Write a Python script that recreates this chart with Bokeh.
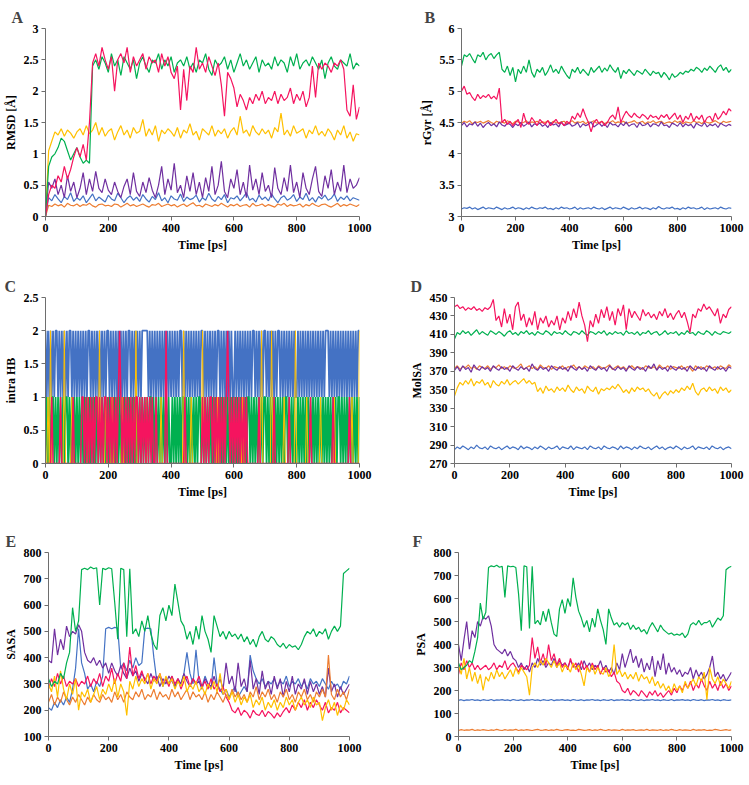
import numpy as np
from bokeh.plotting import figure
from bokeh.layouts import column, row
from bokeh.models import Range1d, FixedTicker
from bokeh.embed import file_html
from bokeh.resources import INLINE

FONT = "Liberation Serif"
BLUE = "#4472C4"; ORANGE = "#ED7D31"; YELLOW = "#FFC000"
GREEN = "#00B050"; RED = "#F5145F"; PURPLE = "#7030A0"

time_ticks = [0, 200, 400, 600, 800, 1000]

# ---------------- A: RMSD [Å] (sampled every 10 ps) ----------------
rmsd_orange = [0, .18, .16, .20, .17, .19, .15, .21, .18, .17,
               .20, .16, .19, .18, .21, .17, .15, .19, .20, .17,
               .18, .16, .20, .19, .15, .18, .21, .17, .19, .16,
               .18, .20, .17, .15, .19, .18, .21, .16, .18, .20,
               .17, .19, .15, .18, .20, .16, .19, .22, .17, .18,
               .15, .20, .18, .16, .19, .17, .21, .18, .15, .19,
               .17, .20, .16, .18, .19, .15, .21, .17, .18, .20,
               .16, .19, .17, .15, .20, .18, .21, .16, .19, .17,
               .18, .20, .15, .19, .17, .21, .18, .16, .19, .20,
               .17, .15, .18, .21, .16, .19, .17, .20, .18, .16, .19]
rmsd_blue = [0, .30, .25, .35, .28, .22, .32, .27, .38, .24,
             .30, .26, .33, .22, .29, .36, .25, .31, .27, .23,
             .34, .28, .25, .37, .30, .22, .29, .33, .26, .31,
             .24, .35, .28, .23, .32, .27, .38, .25, .30, .22,
             .33, .28, .26, .36, .24, .31, .27, .29, .34, .23,
             .30, .26, .37, .28, .24, .32, .27, .35, .22, .30,
             .28, .33, .25, .31, .38, .26, .29, .23, .34, .27,
             .31, .25, .36, .28, .22, .30, .33, .26, .29, .35,
             .24, .31, .27, .37, .25, .30, .23, .32, .28, .34,
             .26, .29, .36, .24, .31, .27, .33, .25, .30, .28, .26]
rmsd_purple = [0, .55, .45, .60, .35, .50, .30, .65, .40, .55,
               .30, .45, .70, .35, .60, .40, .72, .45, .38, .60,
               .42, .35, .55, .40, .30, .48, .60, .35, .70, .40,
               .32, .55, .38, .62, .42, .30, .50, .80, .35, .60,
               .42, .85, .38, .50, .30, .65, .40, .70, .35, .55,
               .30, .62, .40, .80, .35, .50, .88, .40, .30, .60,
               .45, .75, .35, .55, .30, .82, .42, .60, .35, .70,
               .40, .50, .30, .78, .45, .35, .62, .40, .82, .38,
               .55, .30, .70, .45, .35, .60, .80, .40, .32, .65,
               .45, .75, .35, .55, .40, .82, .38, .60, .45, .50, .62]
rmsd_yellow = [0, 1.05, 1.2, 1.35, 1.3, 1.4, 1.28, 1.38, 1.33, 1.25,
               1.35, 1.4, 1.3, 1.45, 1.32, 1.38, 1.5, 1.3, 1.42, 1.28,
               1.36, 1.4, 1.22, 1.35, 1.45, 1.3, 1.38, 1.25, 1.42, 1.33,
               1.36, 1.55, 1.28, 1.4, 1.3, 1.45, 1.2, 1.38, 1.32, 1.4,
               1.35, 1.28, 1.42, 1.25, 1.38, 1.33, 1.48, 1.3, 1.36, 1.22,
               1.4, 1.35, 1.3, 1.45, 1.28, 1.38, 1.32, 1.4, 1.25, 1.36,
               1.42, 1.3, 1.6, 1.33, 1.38, 1.28, 1.45, 1.35, 1.3, 1.4,
               1.32, 1.38, 1.25, 1.42, 1.35, 1.65, 1.3, 1.38, 1.28, 1.45,
               1.33, 1.36, 1.4, 1.25, 1.38, 1.32, 1.45, 1.3, 1.36, 1.28,
               1.4, 1.33, 1.22, 1.38, 1.3, 1.45, 1.25, 1.35, 1.2, 1.32, 1.3]
rmsd_green = [0, .80, .95, 1.0, 1.1, 1.25, 1.2, 1.05, .90, 1.0,
              1.1, .95, .85, .90, .85, 2.4, 2.5, 2.35, 2.55, 2.45,
              2.3, 2.6, 2.4, 2.5, 2.25, 2.55, 2.45, 2.35, 2.5, 2.2,
              2.45, 2.55, 2.4, 2.3, 2.5, 2.45, 2.6, 2.35, 2.5, 2.4,
              2.55, 2.3, 2.45, 2.5, 2.4, 2.55, 2.35, 2.45, 2.3, 2.5,
              2.45, 2.6, 2.35, 2.25, 2.5, 2.4, 2.45, 2.55, 2.35, 2.5,
              2.3, 2.45, 2.6, 2.4, 2.5, 2.35, 2.45, 2.55, 2.3, 2.5,
              2.4, 2.45, 2.35, 2.55, 2.4, 2.5, 2.45, 2.3, 2.55, 2.4,
              2.6, 2.35, 2.45, 2.5, 2.4, 2.55, 2.45, 2.35, 2.5, 2.2,
              2.45, 2.55, 2.4, 2.35, 2.5, 2.45, 2.4, 2.6, 2.35, 2.45, 2.4]
rmsd_red = [0, .35, .5, .45, .65, .55, .8, .6, .75, .95,
            1.1, .95, 1.15, .9, 1.5, 2.45, 2.6, 2.4, 2.7, 2.5,
            2.35, 2.55, 2.0, 2.5, 2.6, 2.45, 2.7, 2.3, 2.55, 2.4,
            2.5, 2.6, 2.35, 2.55, 2.45, 2.5, 2.3, 2.6, 2.4, 2.55,
            2.3, 2.2, 2.4, 1.7, 2.35, 1.85, 2.4, 2.3, 2.7, 2.35,
            2.45, 2.3, 2.55, 2.4, 2.25, 2.45, 2.1, 1.6, 2.3, 2.2,
            2.05, 1.75, 1.95, 1.85, 1.7, 1.9, 1.8, 1.95, 1.85, 2.0,
            1.8, 1.9, 1.85, 2.0, 1.8, 1.95, 1.85, 1.9, 2.05, 1.8,
            1.95, 1.85, 2.0, 1.75, 1.9, 2.4, 1.9, 2.45, 2.35, 2.45,
            2.4, 2.3, 2.45, 2.4, 2.5, 2.35, 1.7, 1.6, 2.1, 1.55, 1.75]

# ---------------- B: rGyr [Å] ----------------
rgyr_blue = [3.12, 3.14, 3.13, 3.15, 3.12, 3.14, 3.11, 3.13, 3.15, 3.12,
             3.14, 3.13, 3.12, 3.15, 3.13, 3.11, 3.14, 3.12, 3.13, 3.15,
             3.12, 3.14, 3.13, 3.11, 3.14, 3.12, 3.15, 3.13, 3.12, 3.14,
             3.13, 3.15, 3.12, 3.13, 3.11, 3.14, 3.12, 3.15, 3.13, 3.14,
             3.12, 3.13, 3.15, 3.11, 3.14, 3.12, 3.13, 3.14, 3.12, 3.15,
             3.13, 3.12, 3.14, 3.11, 3.13, 3.15, 3.12, 3.14, 3.13, 3.12,
             3.15, 3.13, 3.11, 3.14, 3.12, 3.13, 3.15, 3.12, 3.14, 3.13,
             3.11, 3.14, 3.12, 3.16, 3.13, 3.12, 3.14, 3.13, 3.15, 3.12,
             3.13, 3.11, 3.14, 3.12, 3.15, 3.13, 3.14, 3.12, 3.13, 3.15,
             3.11, 3.14, 3.12, 3.13, 3.14, 3.12, 3.15, 3.13, 3.12, 3.14, 3.13]
rgyr_orange = [4.49, 4.52, 4.50, 4.53, 4.48, 4.51, 4.50, 4.52, 4.49, 4.51,
               4.53, 4.50, 4.48, 4.52, 4.50, 4.51, 4.49, 4.53, 4.50, 4.48,
               4.52, 4.51, 4.49, 4.50, 4.53, 4.48, 4.51, 4.50, 4.52, 4.49,
               4.51, 4.50, 4.53, 4.48, 4.52, 4.50, 4.49, 4.51, 4.52, 4.48,
               4.50, 4.53, 4.49, 4.51, 4.50, 4.52, 4.48, 4.51, 4.50, 4.53,
               4.49, 4.50, 4.52, 4.48, 4.51, 4.50, 4.53, 4.49, 4.51, 4.50,
               4.52, 4.48, 4.50, 4.51, 4.53, 4.49, 4.50, 4.52, 4.48, 4.51,
               4.50, 4.53, 4.49, 4.51, 4.52, 4.48, 4.50, 4.51, 4.49, 4.53,
               4.50, 4.52, 4.48, 4.51, 4.50, 4.49, 4.53, 4.50, 4.51, 4.48,
               4.52, 4.50, 4.49, 4.51, 4.53, 4.50, 4.48, 4.52, 4.50, 4.51, 4.52]
rgyr_purple = [4.45, 4.50, 4.43, 4.48, 4.46, 4.51, 4.44, 4.49, 4.42, 4.47,
               4.50, 4.45, 4.48, 4.43, 4.51, 4.46, 4.44, 4.49, 4.47, 4.42,
               4.48, 4.45, 4.50, 4.44, 4.47, 4.51, 4.43, 4.48, 4.46, 4.49,
               4.44, 4.47, 4.42, 4.50, 4.46, 4.48, 4.43, 4.51, 4.45, 4.47,
               4.49, 4.44, 4.46, 4.50, 4.42, 4.48, 4.45, 4.47, 4.51, 4.43,
               4.46, 4.49, 4.44, 4.48, 4.42, 4.50, 4.46, 4.47, 4.43, 4.49,
               4.45, 4.51, 4.44, 4.47, 4.48, 4.42, 4.50, 4.45, 4.46, 4.49,
               4.43, 4.48, 4.47, 4.44, 4.51, 4.45, 4.46, 4.42, 4.49, 4.47,
               4.44, 4.50, 4.43, 4.48, 4.45, 4.47, 4.41, 4.49, 4.46, 4.44,
               4.50, 4.43, 4.47, 4.45, 4.48, 4.42, 4.49, 4.46, 4.44, 4.47, 4.45]
rgyr_red = [5.0, 5.08, 4.95, 4.98, 4.9, 4.85, 4.95, 4.88, 4.93, 4.9,
            4.95, 4.88, 4.92, 4.87, 5.05, 4.5, 4.55, 4.47, 4.52, 4.45,
            4.5, 4.55, 4.42, 4.65, 4.5, 4.47, 4.58, 4.52, 4.45, 4.55,
            4.5, 4.47, 4.53, 4.45, 4.5, 4.55, 4.48, 4.5, 4.45, 4.52,
            4.48, 4.6, 4.55, 4.65, 4.58, 4.72, 4.6, 4.5, 4.35, 4.5,
            4.55, 4.48, 4.52, 4.45, 4.5, 4.58, 4.62, 4.55, 4.75, 4.5,
            4.6, 4.68, 4.62, 4.58, 4.65, 4.6, 4.57, 4.63, 4.6, 4.55,
            4.62, 4.58, 4.6, 4.55, 4.62, 4.58, 4.63, 4.55, 4.6, 4.65,
            4.55, 4.62, 4.5, 4.6, 4.55, 4.65, 4.52, 4.6, 4.55, 4.62,
            4.5, 4.58, 4.6, 4.52, 4.65, 4.55, 4.6, 4.68, 4.62, 4.72, 4.68]
rgyr_green = [5.4, 5.58, 5.55, 5.6, 5.52, 5.45, 5.58, 5.55, 5.62, 5.5,
              5.57, 5.6, 5.52, 5.58, 5.62, 5.35, 5.3, 5.4, 5.25, 5.38,
              5.15, 5.35, 5.28, 5.4, 5.3, 5.5, 5.3, 5.22, 5.35, 5.3,
              5.38, 5.25, 5.32, 5.42, 5.3, 5.35, 5.28, 5.4, 5.32, 5.25,
              5.2, 5.35, 5.3, 5.38, 5.28, 5.35, 5.3, 5.25, 5.38, 5.3,
              5.35, 5.4, 5.3, 5.37, 5.32, 5.42, 5.35, 5.3, 5.38, 5.2,
              5.33, 5.28, 5.35, 5.3, 5.25, 5.33, 5.3, 5.27, 5.35, 5.3,
              5.25, 5.32, 5.28, 5.3, 5.22, 5.3, 5.25, 5.18, 5.28, 5.22,
              5.25, 5.3, 5.27, 5.32, 5.3, 5.35, 5.32, 5.38, 5.35, 5.3,
              5.37, 5.33, 5.4, 5.35, 5.3, 5.38, 5.42, 5.33, 5.38, 5.3, 5.35]

# ---------------- C: intra HB (sampled every 4 ps) ----------------
hb_blue = ("2121212122121212121221212" "1212121212212121212121212"
           "2121212121212121221212121" "2122222121212121212121212"
           "1212121221212121212121212" "2121212121212212121212121"
           "1212121212121212212121212" "2121212121221212121212121"
           "1212121212121212121212122" "2121212121212121212121212" "2")
hb_green = ("0101011010101010110101010" "1010101010101010101010101"
            "0101010101010101010101010" "1010101011010101010101010"
            "0101010101101010101010110" "1010101010101010101010101"
            "0101010101011010101010101" "1010101010101010110101010"
            "0101010101010101010101010" "1010101011010101010101010" "1")
hb_yellow = ("0010200000000002000001000" "0000000001000000002000010"
             "0001000000010000000000200" "0000001000000000010000000"
             "0000000000200000100000000" "2000000000001000000000000"
             "0000000100000000000000200" "0000020000000001000000002"
             "0000000010000000000100000" "0000010000000000000100000" "2")
hb_red = ("0000010000001000000000100" "0000110101010101101010110"
          "1010101012101010101010110" "1010101010100100000002000"
          "0000000000010000000000000" "1010101101010101010121010"
          "1010101010100000000010000" "0000000100000000000100000"
          "0000000000010000000000000" "0000100000000000010000000" "0")

# ---------------- D: MolSA ----------------
molsa_blue = [285, 288, 286, 289, 287, 285, 288, 286, 290, 287,
              286, 288, 285, 289, 287, 286, 288, 285, 287, 289,
              286, 288, 287, 285, 289, 286, 288, 287, 285, 288,
              286, 289, 287, 285, 288, 286, 287, 289, 285, 288,
              287, 286, 289, 285, 288, 287, 286, 288, 285, 289,
              287, 286, 288, 285, 289, 287, 286, 288, 287, 285,
              289, 286, 288, 287, 285, 288, 286, 289, 287, 286,
              288, 285, 287, 289, 286, 288, 285, 287, 288, 286,
              289, 287, 285, 288, 286, 287, 289, 285, 288, 287,
              286, 288, 285, 289, 287, 286, 288, 285, 287, 288, 286]
molsa_orange = [373, 376, 372, 375, 374, 377, 373, 375, 372, 376,
                374, 373, 376, 372, 375, 374, 377, 373, 375, 372,
                376, 374, 373, 375, 378, 372, 374, 376, 373, 375,
                372, 377, 374, 373, 376, 372, 375, 374, 373, 376,
                372, 375, 374, 377, 373, 375, 372, 376, 374, 373,
                375, 372, 376, 374, 373, 375, 377, 372, 374, 376,
                373, 375, 372, 374, 376, 373, 375, 374, 372, 376,
                374, 373, 375, 372, 377, 374, 373, 376, 372, 375,
                374, 373, 376, 372, 375, 374, 370, 376, 373, 375,
                372, 376, 374, 373, 375, 372, 376, 374, 373, 377, 375]
molsa_purple = [371, 375, 370, 376, 372, 374, 369, 377, 373, 371,
                375, 372, 374, 370, 376, 373, 371, 375, 372, 374,
                370, 376, 373, 371, 375, 372, 374, 370, 378, 373,
                371, 375, 372, 374, 370, 376, 373, 371, 375, 372,
                374, 370, 376, 373, 371, 375, 372, 374, 370, 376,
                373, 371, 375, 372, 374, 370, 376, 373, 371, 375,
                372, 374, 370, 376, 373, 371, 375, 372, 374, 370,
                376, 373, 378, 371, 375, 372, 374, 370, 376, 373,
                371, 375, 372, 374, 370, 376, 373, 371, 375, 372,
                374, 370, 376, 373, 371, 375, 372, 374, 370, 375, 373]
molsa_yellow = [343, 352, 358, 355, 360, 356, 362, 354, 359, 357,
                361, 355, 358, 352, 360, 356, 354, 359, 356, 361,
                355, 358, 360, 356, 359, 362, 357, 360, 356, 358,
                348, 352, 346, 354, 349, 351, 347, 353, 349, 352,
                348, 355, 350, 347, 353, 349, 351, 346, 354, 350,
                348, 353, 345, 351, 349, 352, 350, 354, 351, 356,
                352, 347, 350, 346, 352, 348, 353, 350, 352, 348,
                351, 346, 343, 347, 340, 345, 348, 344, 349, 346,
                350, 347, 352, 349, 354, 350, 357, 348, 344, 350,
                352, 348, 353, 349, 351, 346, 353, 349, 352, 347, 350]
molsa_green = [405, 412, 410, 414, 411, 413, 409, 412, 415, 410,
               413, 411, 409, 414, 412, 410, 413, 411, 408, 412,
               414, 410, 412, 409, 413, 411, 414, 410, 412, 409,
               413, 411, 410, 414, 412, 409, 413, 411, 412, 410,
               414, 411, 409, 413, 412, 410, 414, 411, 409, 413,
               412, 410, 413, 411, 414, 409, 412, 410, 413, 411,
               412, 409, 414, 411, 412, 410, 413, 409, 412, 411,
               414, 410, 412, 413, 409, 411, 414, 410, 412, 411,
               413, 409, 412, 410, 414, 411, 412, 409, 413, 411,
               410, 414, 412, 409, 413, 411, 410, 413, 412, 411, 413]
molsa_red = [440, 442, 438, 440, 436, 439, 437, 440, 436, 438,
             435, 439, 437, 440, 448, 425, 430, 418, 438, 422,
             432, 415, 440, 445, 425, 432, 418, 428, 420, 435,
             415, 428, 422, 430, 418, 425, 420, 430, 415, 428,
             422, 435, 425, 438, 428, 445, 430, 420, 402, 425,
             418, 432, 422, 437, 428, 440, 425, 435, 420, 438,
             430, 442, 415, 438, 428, 435, 430, 425, 437, 430,
             434, 428, 432, 426, 435, 430, 438, 428, 433, 426,
             432, 436, 428, 434, 424, 412, 432, 428, 438, 435,
             443, 437, 440, 435, 430, 438, 422, 432, 428, 437, 440]

# ---------------- E: SASA ----------------
sasa_green = [320, 290, 310, 300, 340, 320, 380, 420, 590, 500,
              540, 735, 740, 735, 745, 738, 742, 600, 740, 735,
              742, 738, 610, 470, 740, 735, 480, 738, 490, 510,
              480, 540, 500, 560, 490, 450, 430, 560, 590, 540,
              600, 560, 680, 610, 540, 520, 470, 500, 450, 520,
              470, 560, 500, 470, 420, 560, 520, 480, 500, 470,
              500, 480, 490, 470, 490, 460, 480, 450, 470, 440,
              480, 500, 470, 460, 480, 470, 450, 440, 455, 435,
              450, 440, 445, 430, 450, 480, 500, 490, 510, 480,
              500, 490, 510, 470, 500, 520, 500, 520, 720, 730, 740]
sasa_purple = [390, 380, 510, 410, 470, 430, 520, 480, 500, 490,
               525, 500, 420, 390, 380, 400, 370, 390, 360, 380,
               340, 380, 350, 330, 370, 340, 320, 360, 330, 350,
               310, 340, 320, 300, 340, 310, 330, 290, 320, 300,
               330, 310, 290, 320, 300, 340, 310, 290, 320, 300,
               310, 280, 320, 300, 290, 330, 290, 320, 280, 380,
               300, 330, 270, 380, 290, 320, 270, 390, 280, 320,
               260, 350, 280, 310, 260, 330, 280, 320, 250, 310,
               270, 330, 260, 300, 280, 320, 260, 310, 270, 300,
               260, 290, 250, 360, 270, 300, 250, 290, 260, 280, 300]
sasa_blue = [210, 200, 230, 210, 240, 220, 250, 230, 280, 360,
             510, 380, 340, 280, 300, 270, 310, 290, 330, 510,
             515, 510, 515, 512, 360, 380, 350, 390, 360, 400,
             370, 380, 510, 512, 510, 400, 310, 330, 290, 320,
             300, 330, 290, 310, 300, 340, 420, 340, 300, 430,
             310, 290, 330, 300, 280, 400, 300, 280, 260, 280,
             250, 270, 290, 250, 270, 290, 270, 410, 350, 320,
             300, 320, 290, 310, 300, 320, 290, 310, 300, 330,
             290, 310, 300, 320, 290, 310, 280, 320, 300, 310,
             290, 320, 300, 280, 310, 290, 300, 280, 310, 300, 330]
sasa_red = [280, 320, 290, 340, 300, 330, 290, 310, 300, 320,
            290, 310, 300, 330, 290, 320, 300, 340, 290, 330,
            310, 360, 300, 340, 310, 380, 320, 440, 330, 370,
            320, 350, 310, 340, 300, 330, 310, 340, 300, 320,
            290, 330, 300, 320, 280, 310, 330, 290, 320, 300,
            330, 290, 310, 280, 320, 280, 300, 270, 290, 250,
            230, 200, 190, 210, 180, 200, 190, 170, 200, 185,
            180, 200, 175, 195, 185, 170, 190, 175, 195, 210,
            190, 220, 200, 230, 210, 240, 200, 230, 210, 240,
            220, 200, 230, 190, 210, 200, 230, 190, 210, 200, 190]
sasa_yellow = [300, 270, 330, 250, 350, 280, 240, 300, 260, 320,
               200, 270, 250, 280, 230, 260, 290, 240, 280, 260,
               300, 270, 320, 250, 300, 270, 180, 310, 280, 330,
               290, 320, 300, 340, 280, 320, 300, 340, 290, 330,
               300, 320, 280, 310, 290, 330, 270, 300, 280, 310,
               270, 290, 260, 300, 280, 310, 270, 340, 260, 280,
               240, 270, 230, 260, 220, 250, 230, 260, 210, 240,
               220, 250, 200, 230, 210, 240, 200, 230, 210, 250,
               220, 240, 200, 230, 250, 220, 240, 210, 250, 220,
               230, 160, 210, 240, 200, 230, 180, 220, 200, 240, 220]
sasa_orange = [230, 260, 220, 250, 230, 270, 240, 220, 250, 230,
               260, 240, 220, 250, 230, 260, 240, 230, 260, 240,
               250, 230, 270, 240, 260, 230, 270, 250, 240, 270,
               250, 280, 240, 260, 250, 280, 240, 270, 250, 260,
               240, 280, 250, 270, 240, 260, 280, 240, 270, 250,
               260, 240, 270, 230, 260, 240, 270, 250, 230, 260,
               240, 280, 250, 270, 240, 260, 230, 270, 250, 290,
               240, 270, 250, 280, 240, 260, 230, 270, 250, 280,
               240, 260, 230, 270, 250, 280, 240, 260, 230, 270,
               250, 280, 250, 410, 260, 240, 280, 250, 270, 240, 280]

# ---------------- F: PSA ----------------
psa_green = [320, 290, 300, 310, 330, 320, 370, 430, 580, 510,
             540, 735, 742, 738, 745, 736, 740, 605, 742, 738,
             740, 735, 620, 460, 742, 738, 470, 740, 490, 505,
             485, 545, 500, 555, 495, 445, 435, 555, 595, 535,
             600, 565, 690, 605, 545, 515, 475, 505, 455, 515,
             475, 555, 505, 465, 400, 555, 515, 485, 495, 475,
             495, 485, 495, 465, 485, 465, 475, 455, 465, 445,
             475, 495, 475, 455, 485, 465, 455, 445, 450, 440,
             445, 440, 450, 430, 445, 485, 495, 485, 505, 485,
             495, 495, 505, 475, 495, 515, 505, 525, 725, 735, 740]
psa_orange = [26, 30, 27, 29, 28, 31, 26, 29, 27, 30,
              28, 26, 29, 27, 31, 28, 26, 30, 27, 29,
              28, 31, 26, 29, 27, 30, 28, 26, 29, 31,
              27, 28, 30, 26, 29, 27, 31, 28, 26, 29,
              30, 27, 28, 26, 31, 29, 27, 28, 30, 26,
              29, 27, 31, 28, 26, 30, 27, 29, 28, 26,
              31, 27, 29, 28, 30, 26, 28, 29, 27, 31,
              26, 29, 28, 27, 30, 26, 29, 27, 31, 28,
              26, 30, 27, 29, 28, 26, 31, 27, 29, 28,
              30, 26, 28, 27, 31, 29, 26, 28, 30, 27, 29]
psa_blue = [157, 160, 156, 159, 158, 161, 157, 159, 156, 160,
            158, 157, 161, 156, 159, 158, 160, 157, 159, 156,
            161, 158, 157, 160, 156, 159, 158, 161, 157, 159,
            156, 160, 158, 157, 161, 156, 159, 158, 160, 157,
            159, 156, 161, 158, 157, 160, 156, 159, 158, 161,
            157, 159, 156, 160, 158, 157, 161, 156, 159, 158,
            160, 157, 159, 156, 161, 158, 157, 160, 156, 159,
            158, 161, 157, 159, 156, 160, 158, 157, 161, 156,
            159, 158, 160, 157, 159, 156, 161, 158, 157, 160,
            156, 159, 158, 161, 157, 159, 156, 160, 158, 157, 159]
psa_purple = [400, 330, 420, 500, 380, 460, 430, 500, 480, 520,
              510, 525, 480, 400, 380, 370, 360, 380, 350, 370,
              340, 330, 300, 320, 290, 310, 280, 320, 300, 340,
              310, 330, 300, 320, 310, 340, 300, 330, 310, 320,
              300, 330, 310, 300, 320, 290, 330, 300, 320, 290,
              310, 300, 330, 290, 310, 280, 300, 270, 320, 290,
              360, 300, 340, 380, 320, 350, 300, 340, 280, 320,
              290, 350, 260, 330, 290, 360, 270, 320, 280, 300,
              270, 290, 260, 280, 270, 300, 250, 290, 260, 280,
              250, 270, 300, 350, 260, 280, 250, 270, 240, 260, 280]
psa_red = [270, 320, 290, 330, 300, 320, 290, 310, 290, 300,
           310, 290, 300, 320, 290, 310, 300, 330, 290, 310,
           320, 300, 280, 310, 300, 290, 310, 430, 340, 390,
           320, 360, 310, 400, 330, 360, 310, 340, 300, 320,
           290, 340, 300, 320, 280, 330, 290, 310, 280, 320,
           290, 310, 270, 300, 280, 290, 260, 280, 240, 230,
           200, 190, 210, 180, 200, 190, 175, 200, 185, 170,
           195, 180, 200, 175, 190, 170, 185, 200, 180, 210,
           190, 220, 200, 230, 210, 240, 200, 230, 210, 250,
           220, 200, 240, 210, 230, 200, 240, 210, 230, 200, 220]
psa_yellow = [310, 270, 340, 250, 300, 240, 280, 230, 270, 200,
              260, 240, 280, 250, 290, 260, 280, 250, 270, 290,
              260, 300, 270, 300, 280, 260, 180, 300, 320, 300,
              330, 310, 340, 320, 300, 330, 300, 320, 280, 310,
              300, 280, 320, 290, 310, 270, 220, 300, 280, 310,
              270, 300, 280, 270, 300, 260, 280, 400, 270, 290,
              260, 280, 250, 270, 250, 280, 240, 270, 250, 260,
              230, 260, 220, 240, 210, 230, 200, 220, 190, 230,
              200, 220, 190, 240, 210, 230, 250, 220, 260, 240,
              280, 160, 300, 250, 230, 260, 220, 250, 230, 210, 240]


def make_fig(letter, width, height, bl, frame_w, bt, frame_h, letter_offset,
             ylo, yhi, yticks, ylabel):
    p = figure(width=width, height=height, output_backend="svg",
               toolbar_location=None,
               x_range=Range1d(0, 1000), y_range=Range1d(ylo, yhi),
               min_border_left=bl, min_border_top=bt,
               min_border_right=width - bl - frame_w,
               min_border_bottom=height - bt - frame_h)
    p.title.text = letter
    p.title.text_font = FONT
    p.title.text_font_style = "bold"
    p.title.text_font_size = "16px"
    p.title.align = "left"
    p.title.offset = letter_offset
    p.title.standoff = 6
    p.outline_line_color = None
    p.xgrid.visible = False
    p.ygrid.visible = False
    p.background_fill_color = "white"
    p.border_fill_color = "white"
    p.xaxis.ticker = FixedTicker(ticks=time_ticks)
    p.yaxis.ticker = FixedTicker(ticks=yticks)
    p.xaxis.major_label_overrides = {t: f"{t:g}" for t in time_ticks}
    p.yaxis.major_label_overrides = {t: f"{t:g}" for t in yticks}
    p.xaxis.axis_label = "Time [ps]"
    p.yaxis.axis_label = ylabel
    for ax in (p.xaxis[0], p.yaxis[0]):
        ax.axis_line_color = "#6e6e6e"
        ax.major_tick_line_color = "#6e6e6e"
        ax.minor_tick_line_color = None
        ax.major_tick_in = 0
        ax.major_tick_out = 4
        ax.major_label_text_font = FONT
        ax.major_label_text_font_style = "bold"
        ax.major_label_text_font_size = "12px"
        ax.major_label_text_color = "black"
        ax.axis_label_text_font = FONT
        ax.axis_label_text_font_style = "bold"
        ax.axis_label_text_font_size = "12px"
        ax.axis_label_text_color = "black"
        ax.axis_label_standoff = 3
        ax.major_label_standoff = 3
    return p


def add_series(p, series, width=1.0):
    for vals, color in series:
        xs = np.linspace(0, 1000, len(vals))
        p.line(xs, vals, line_color=color, line_width=width)


W_L, W_R = 383, 362
H1, H2, H3 = 262, 248, 267

pA = make_fig("A", W_L, H1, 43, 316, 28, 188, -34, 0, 3,
              [0, 0.5, 1, 1.5, 2, 2.5, 3], "RMSD [Å]")
add_series(pA, [(rmsd_orange, ORANGE), (rmsd_blue, BLUE), (rmsd_purple, PURPLE),
                (rmsd_yellow, YELLOW), (rmsd_green, GREEN), (rmsd_red, RED)], 1.2)

pB = make_fig("B", W_R, H1, 78, 270, 28, 188, -37, 3, 6,
              [3, 3.5, 4, 4.5, 5, 5.5, 6], "rGyr [Å]")
add_series(pB, [(rgyr_blue, BLUE), (rgyr_orange, ORANGE), (rgyr_purple, PURPLE),
                (rgyr_green, GREEN), (rgyr_red, RED)], 1.2)

pC = make_fig("C", W_L, H2, 43, 316, 35, 166, -41, 0, 2.5,
              [0, 0.5, 1, 1.5, 2, 2.5], "intra HB")
add_series(pC, [([int(c) for c in hb_blue], BLUE),
                ([int(c) for c in hb_green], GREEN)], 1.8)
add_series(pC, [([int(c) for c in hb_yellow], YELLOW)], 1.0)
add_series(pC, [([int(c) for c in hb_red], RED)], 1.5)

pD = make_fig("D", W_R, H2, 71, 277, 35, 166, -44, 270, 450,
              list(range(270, 451, 20)), "MolSA")
add_series(pD, [(molsa_blue, BLUE), (molsa_yellow, YELLOW), (molsa_orange, ORANGE),
                (molsa_purple, PURPLE), (molsa_green, GREEN), (molsa_red, RED)], 1.2)

pE = make_fig("E", W_L, H3, 46, 303, 42, 184, -43, 100, 800,
              list(range(100, 801, 100)), "SASA")
add_series(pE, [(sasa_blue, BLUE), (sasa_purple, PURPLE), (sasa_red, RED),
                (sasa_orange, ORANGE), (sasa_yellow, YELLOW), (sasa_green, GREEN)], 1.2)

pF = make_fig("F", W_R, H3, 75, 273, 42, 184, -46, 0, 800,
              list(range(0, 801, 100)), "PSA")
add_series(pF, [(psa_orange, ORANGE), (psa_blue, BLUE), (psa_purple, PURPLE),
                (psa_red, RED), (psa_yellow, YELLOW), (psa_green, GREEN)], 1.2)

layout = column(row(pA, pB), row(pC, pD), row(pE, pF))
open("out.html", "w").write(file_html(layout, INLINE))
